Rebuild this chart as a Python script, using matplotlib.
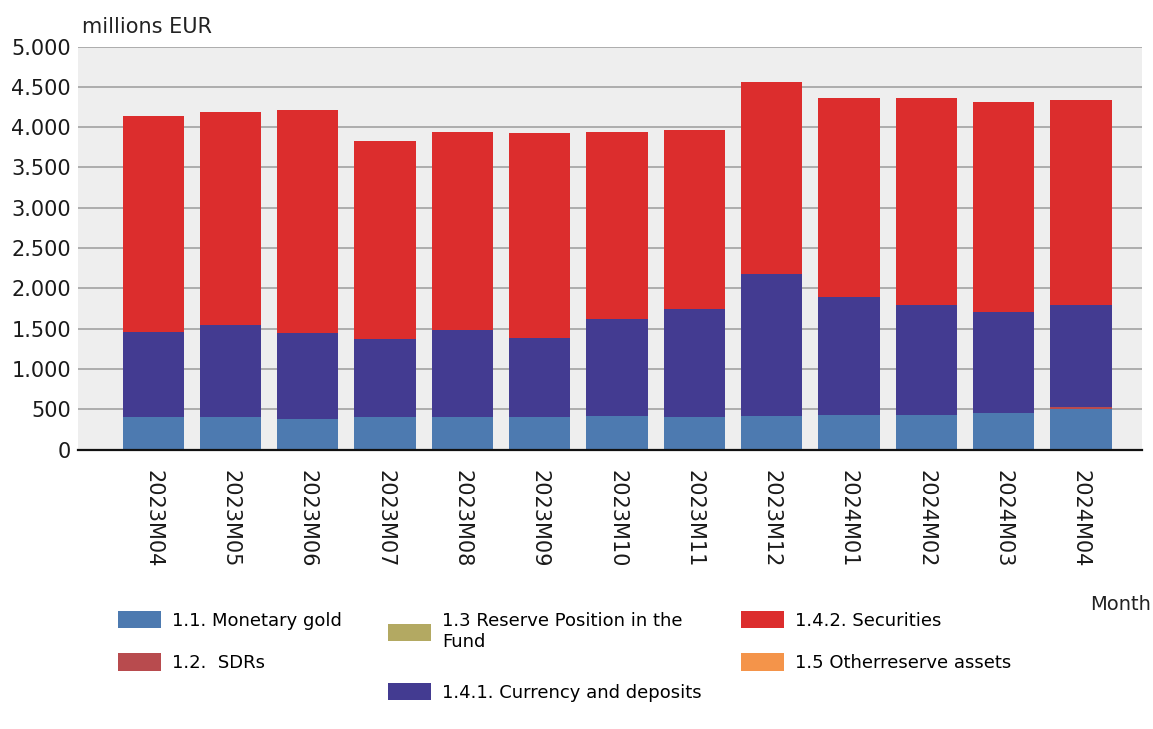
import numpy as np
import matplotlib
matplotlib.use('Agg')
import matplotlib.pyplot as plt
from matplotlib.ticker import FuncFormatter
from matplotlib.patches import Patch

# Reserve assets by month, millions EUR
months = ["2023M04", "2023M05", "2023M06", "2023M07", "2023M08", "2023M09", "2023M10",
          "2023M11", "2023M12", "2024M01", "2024M02", "2024M03", "2024M04"]
gold       = [405, 405, 378, 398, 398, 398, 418, 406, 418, 427, 427, 448, 498]
sdrs       = [2, 2, 3, 2, 2, 2, 2, 2, 2, 2, 2, 2, 32]
reserve    = [0.5, 0.5, 0.5, 0.5, 0.5, 0.5, 0.5, 0.5, 0.5, 0.5, 0.5, 0.5, 0.5]
currency   = [1050, 1133, 1058, 976, 1078, 988, 1203, 1339, 1752, 1462, 1368, 1255, 1267]
securities = [2683, 2650, 2776, 2446, 2464, 2533, 2319, 2220, 2385, 2468, 2562, 2605, 2537]
other      = [1, 1, 1, 1, 1, 1, 1, 1, 1, 1, 1, 1, 1]

series = [
    ("1.1. Monetary gold", gold, "#4D7AB0"),
    ("1.2.  SDRs", sdrs, "#B84B4E"),
    ("1.3 Reserve Position in the\nFund", reserve, "#B3A962"),
    ("1.4.1. Currency and deposits", currency, "#433B91"),
    ("1.4.2. Securities", securities, "#DC2D2D"),
    ("1.5 Otherreserve assets", other, "#F4944A"),
]

fig = plt.figure(figsize=(11.53, 7.29), dpi=100)
ax = fig.add_axes([0.0677, 0.3834, 0.9228, 0.5528])
ax.set_facecolor("#EEEEEE")

x = np.arange(len(months))
bottom = np.zeros(len(months))
for label, vals, color in series:
    ax.bar(x, vals, width=0.79, bottom=bottom, color=color, label=label, zorder=3, linewidth=0)
    bottom += np.array(vals)

ax.set_xlim(-0.97, 12.79)
ax.set_ylim(0, 5000)
ax.set_yticks(np.arange(0, 5001, 500))
ax.yaxis.set_major_formatter(FuncFormatter(lambda v, p: f"{v:,.0f}".replace(",", ".")))
ax.grid(axis='y', color="#A8A8A8", lw=1.3, zorder=1)
ax.set_xticks(x)
ax.set_xticklabels(months, rotation=270, fontsize=15, color="#1A1A1A")
ax.tick_params(axis='x', length=0, pad=15)
ax.tick_params(axis='y', length=0, pad=5, labelsize=15, labelcolor="#1A1A1A")
for s in ["top", "right", "left"]:
    ax.spines[s].set_visible(False)
ax.spines["bottom"].set_color("#111111")
ax.spines["bottom"].set_linewidth(1.6)
ax.spines["bottom"].set_zorder(4)

fig.text(82 / 1153, 1 - 33 / 729, "millions EUR", fontsize=15, color="#222222", va='baseline')
fig.text(1 - 2 / 1153, 1 - 605 / 729, "Month", fontsize=14, color="#222222", ha='right', va='center')

# legend laid out in three columns like the original
handles = [Patch(facecolor=c, edgecolor='none', label=l) for l, _, c in series]
cols = [
    ([handles[0], handles[1]], 118, 611, 1.3),
    ([handles[2], handles[3]], 388, 612, 1.78),
    ([handles[4], handles[5]], 741, 611, 1.3),
]
for hs, px, py, sp in cols:
    fig.legend(handles=hs, loc='upper left', bbox_to_anchor=(px / 1153, 1 - py / 729),
               frameon=False, fontsize=13, handlelength=2.4, handleheight=1.1,
               handletextpad=0.6, labelspacing=sp, borderpad=0, borderaxespad=0)

fig.savefig("out.png", dpi=100)
